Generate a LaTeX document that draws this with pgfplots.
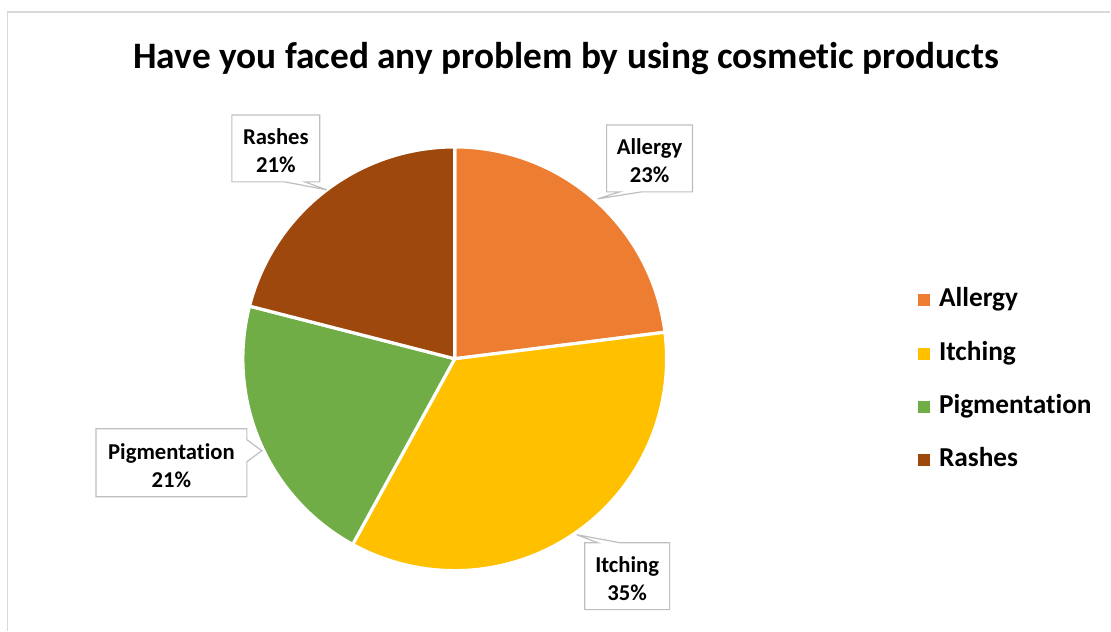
\documentclass[border=0pt]{standalone}
\usepackage{pgfplots}
\pgfplotsset{compat=1.18}
\usepackage{fontspec}
\setmainfont[Ligatures=NoCommon]{Carlito}
\definecolor{cA}{HTML}{ED7D31}
\definecolor{cB}{HTML}{FFC000}
\definecolor{cC}{HTML}{70AD47}
\definecolor{cD}{HTML}{9E480E}
\definecolor{frame}{HTML}{D9D9D9}
\definecolor{cbox}{HTML}{BFBFBF}
\begin{document}
\begin{tikzpicture}
% values (percent)
\def\vA{23}\def\vB{35}\def\vC{21}\def\vD{21}
\pgfmathsetmacro\aA{90}
\pgfmathsetmacro\aB{\aA-3.6*\vA}
\pgfmathsetmacro\aC{\aB-3.6*\vB}
\pgfmathsetmacro\aD{\aC-3.6*\vC}
\pgfmathsetmacro\aE{\aD-3.6*\vD}
\begin{axis}[
  x=0.75pt, y=0.75pt, scale only axis,
  xmin=0, xmax=1111, ymin=0, ymax=631,
  hide axis, clip=false,
  legend image code/.code={\fill[#1,draw=none] (0pt,-4.5pt) rectangle (9pt,4.5pt);},
  legend style={at={(axis cs:918,250.5)}, anchor=west, draw=none, fill=none,
    font=\fontsize{20.5}{24}\selectfont\bfseries, inner sep=0pt,
    row sep=20pt, column sep=7pt,
    nodes={inner sep=0pt, text height=15pt, text depth=5pt}},
  legend cell align=left,
]
\path[fill=white] (axis cs:0,0) rectangle (axis cs:1111,631);
\draw[frame, line width=1pt] (axis cs:7.5,0) -- (axis cs:7.5,619) -- (axis cs:1111,619);
\node[font=\fontsize{28}{33}\selectfont\bfseries] at (axis cs:566.5,572) {Have you faced any problem by using cosmetic products};

\addplot[fill=cA, draw=white, line width=2.4pt, line join=round, domain=\aB:\aA, samples=120, variable=\t]
  ({455+212*cos(\t)}, {272+212*sin(\t)}) -- (axis cs:455,272) -- cycle;
\addlegendentry{Allergy}
\addplot[fill=cB, draw=white, line width=2.4pt, line join=round, domain=\aC:\aB, samples=120, variable=\t]
  ({455+212*cos(\t)}, {272+212*sin(\t)}) -- (axis cs:455,272) -- cycle;
\addlegendentry{Itching}
\addplot[fill=cC, draw=white, line width=2.4pt, line join=round, domain=\aD:\aC, samples=120, variable=\t]
  ({455+212*cos(\t)}, {272+212*sin(\t)}) -- (axis cs:455,272) -- cycle;
\addlegendentry{Pigmentation}
\addplot[fill=cD, draw=white, line width=2.4pt, line join=round, domain=\aE:\aD, samples=120, variable=\t]
  ({455+212*cos(\t)}, {272+212*sin(\t)}) -- (axis cs:455,272) -- cycle;
\addlegendentry{Rashes}

% callouts
\tikzset{callout/.style={fill=white, draw=cbox, line width=0.9pt, line join=miter},
  lbl/.style={font=\fontsize{17}{21}\selectfont\bfseries, align=center}}
\draw[callout] (axis cs:607,506) -- (axis cs:693,506) -- (axis cs:693,439) -- (axis cs:642,439)
  -- (axis cs:598,432) -- (axis cs:620,439) -- (axis cs:607,439) -- cycle;
\node[lbl] at (axis cs:650,470) {Allergy\\\vA\%};
\draw[callout] (axis cs:232,516) -- (axis cs:320,516) -- (axis cs:320,449) -- (axis cs:305,449)
  -- (axis cs:327,441) -- (axis cs:285,449) -- (axis cs:232,449) -- cycle;
\node[lbl] at (axis cs:276,480) {Rashes\\\vD\%};
\draw[callout] (axis cs:96,202) -- (axis cs:247,202) -- (axis cs:247,191) -- (axis cs:262,180)
  -- (axis cs:247,169) -- (axis cs:247,134) -- (axis cs:96,134) -- cycle;
\node[lbl] at (axis cs:171.5,165) {Pigmentation\\\vC\%};
\draw[callout] (axis cs:585,88) -- (axis cs:598,88) -- (axis cs:577,96) -- (axis cs:620,88)
  -- (axis cs:670,88) -- (axis cs:670,21) -- (axis cs:585,21) -- cycle;
\node[lbl] at (axis cs:627.5,52) {Itching\\\vB\%};
\end{axis}
\end{tikzpicture}
\end{document}
